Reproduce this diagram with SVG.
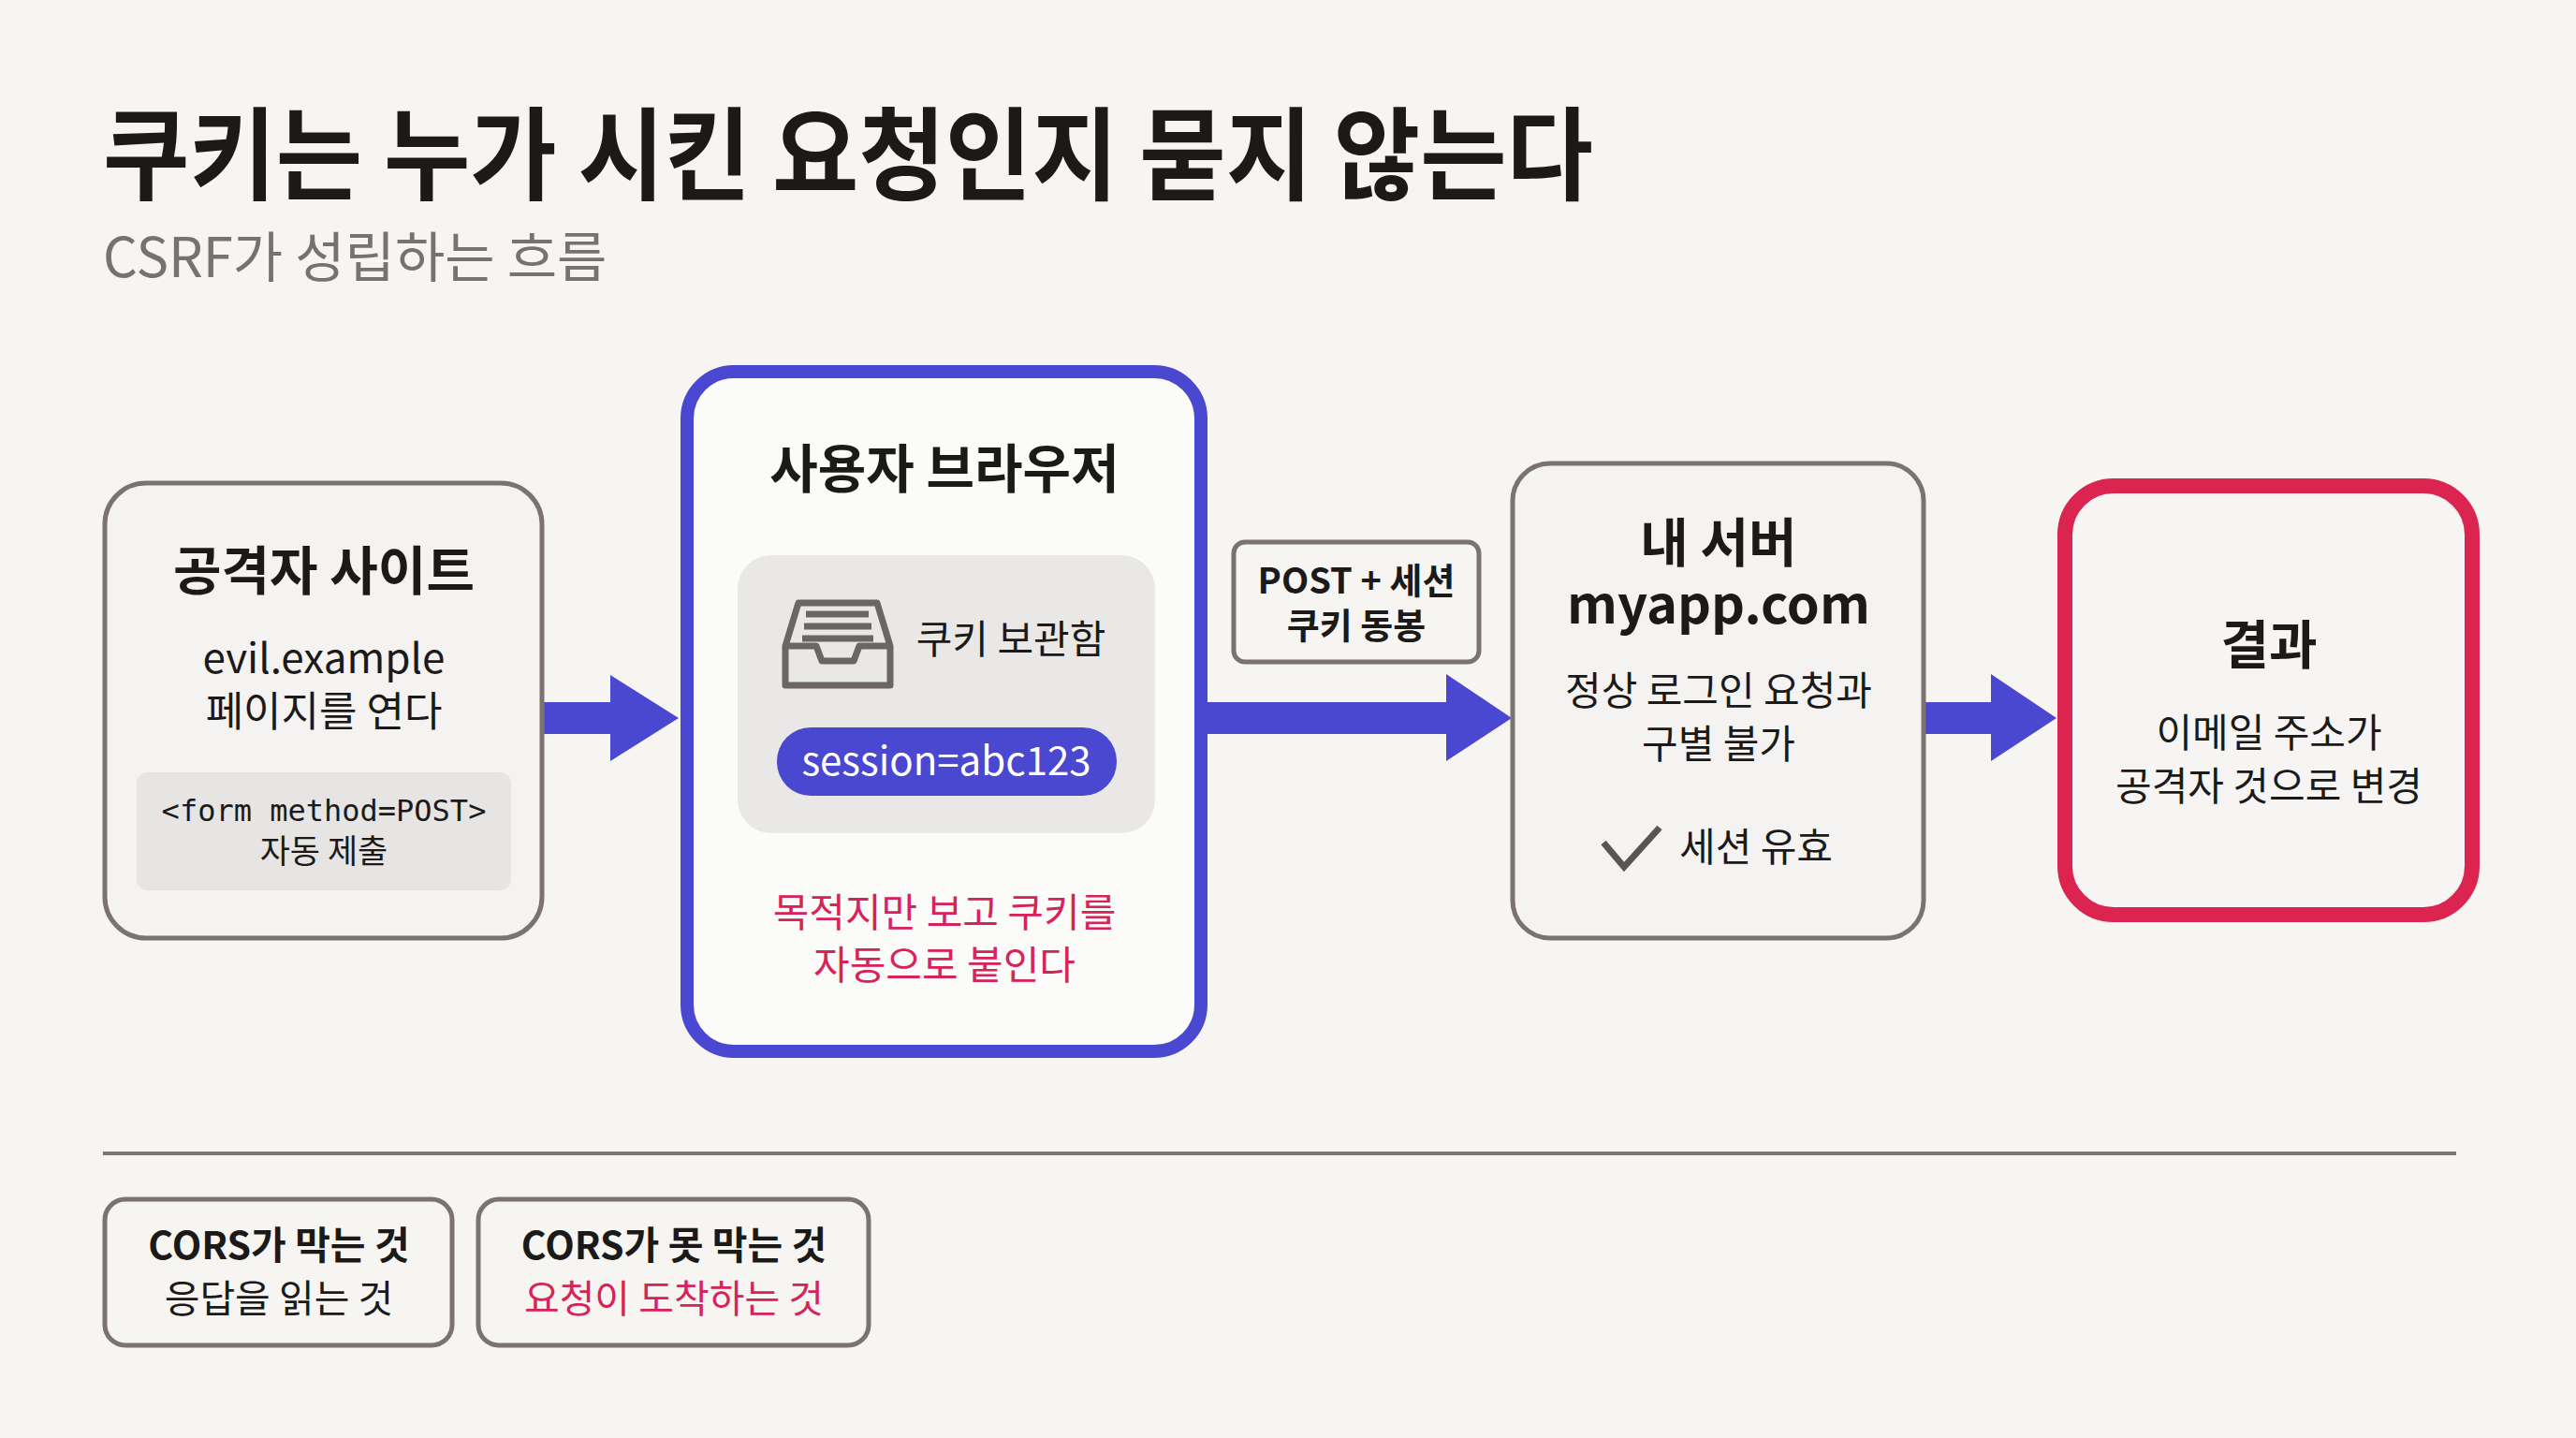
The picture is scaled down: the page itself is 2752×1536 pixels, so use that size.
<svg xmlns="http://www.w3.org/2000/svg" width="2752" height="1536" viewBox="0 0 2752 1536">
<style>
text{font-family:"Noto Sans CJK KR","Noto Sans",sans-serif;fill:#1c1a19;text-anchor:middle}
.h{font-weight:700;font-size:56px}
.b{font-size:42px}
.red{fill:#d6245a}
.box{fill:#f4f3f1;stroke:#7a7370;stroke-width:5}
.arrow{fill:#4a47d0}
</style>
<rect width="2752" height="1536" fill="#f6f5f2"/>
<text x="110" y="205" textLength="1592" lengthAdjust="spacingAndGlyphs" style="font-size:108px;font-weight:700;text-anchor:start">쿠키는 누가 시킨 요청인지 묻지 않는다</text>
<text x="110" y="296" style="font-size:58px;fill:#777270;text-anchor:start">CSRF가 성립하는 흐름</text>

<g id="connectors">
<polygon class="arrow" points="579,750 652,750 652,721 725,767 652,813 652,784 579,784"/>
<polygon class="arrow" points="1283,750 1545,750 1545,720 1615,767 1545,813 1545,784 1283,784"/>
<polygon class="arrow" points="2055,750 2127,750 2127,720 2197,767 2127,813 2127,784 2055,784"/>
<g id="edge-label">
<rect x="1318" y="579" width="262" height="128" rx="12" class="box" style="fill:#f6f5f2"/>
<text x="1449" y="634" style="font-size:38px;font-weight:600">POST + 세션</text>
<text x="1449" y="682" style="font-size:38px;font-weight:600">쿠키 동봉</text>
</g>
</g>

<g id="attacker">
<rect x="112" y="516" width="467" height="486" rx="44" class="box"/>
<text x="346" y="630" class="h">공격자 사이트</text>
<text x="346" y="719" style="font-size:44px">evil.example</text>
<text x="346" y="776" style="font-size:44px">페이지를 연다</text>
<rect x="146" y="825" width="400" height="126" rx="12" fill="#e6e5e3"/>
<text x="346" y="877" style="font-size:32px;font-family:'DejaVu Sans Mono',monospace">&lt;form method=POST&gt;</text>
<text x="346" y="922" style="font-size:35px">자동 제출</text>
</g>

<g id="browser">
<rect x="734" y="397" width="549" height="726" rx="50" fill="#fbfbfa" stroke="#4a47d0" stroke-width="14"/>
<text x="1009" y="521" class="h">사용자 브라우저</text>
<rect x="788" y="593" width="446" height="297" rx="36" fill="#e9e8e6"/>
<g fill="none" stroke="#6b6563" stroke-width="7" stroke-linejoin="round">
<path d="M853,644 L937,644 L951,690 L951,732 L839,732 L839,690 Z"/>
<path d="M839,690 L872,690 L878,706 L912,706 L918,690 L951,690"/>
<path d="M861,656 H928 M859,669 H931 M857,682 H933"/>
</g>
<text x="1080" y="698" class="b">쿠키 보관함</text>
<rect x="830" y="777" width="363" height="73" rx="36" fill="#4a47d0"/>
<text x="1011" y="828" class="b" style="fill:#fff">session=abc123</text>
<text x="1009" y="990" class="b red">목적지만 보고 쿠키를</text>
<text x="1009" y="1046" class="b red">자동으로 붙인다</text>
</g>

<g id="server">
<rect x="1616" y="495" width="439" height="507" rx="40" class="box"/>
<text x="1836" y="600" class="h">내 서버</text>
<text x="1836" y="666" class="h">myapp.com</text>
<text x="1836" y="753" class="b">정상 로그인 요청과</text>
<text x="1836" y="810" class="b">구별 불가</text>
<path d="M1713,900 L1735,926 L1773,884" fill="none" stroke="#5a5452" stroke-width="7"/>
<text x="1794" y="920" class="b" style="text-anchor:start">세션 유효</text>
</g>

<g id="result">
<rect x="2206" y="519" width="435" height="458" rx="52" fill="#f6f5f4" stroke="#dc2450" stroke-width="16"/>
<text x="2424" y="709" class="h">결과</text>
<text x="2424" y="798" class="b">이메일 주소가</text>
<text x="2424" y="855" class="b">공격자 것으로 변경</text>
</g>

<line x1="110" y1="1232" x2="2624" y2="1232" stroke="#7a7370" stroke-width="4"/>

<g id="cors-blocks">
<rect x="112" y="1281" width="371" height="156" rx="22" class="box" style="fill:#f6f5f2"/>
<text x="298" y="1345" style="font-size:41px;font-weight:700">CORS가 막는 것</text>
<text x="298" y="1402" style="font-size:41px">응답을 읽는 것</text>
</g>
<g id="cors-allows">
<rect x="511" y="1281" width="417" height="156" rx="22" class="box" style="fill:#f6f5f2"/>
<text x="720" y="1345" style="font-size:41px;font-weight:700">CORS가 못 막는 것</text>
<text x="720" y="1402" class="red" style="font-size:41px">요청이 도착하는 것</text>
</g>
</svg>
